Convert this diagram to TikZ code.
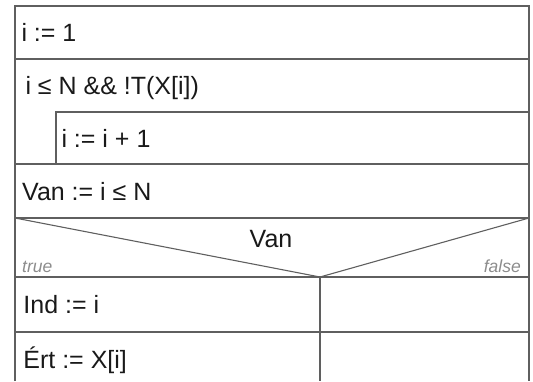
\documentclass[tikz,border=0pt]{standalone}
\usepackage{fontspec}
\setmainfont{Liberation Sans}
\definecolor{linec}{RGB}{95,95,95}
\definecolor{txtc}{RGB}{25,25,25}
\definecolor{lblc}{RGB}{140,140,140}
\begin{document}
\begin{tikzpicture}[x=1pt,y=-1pt,
  rule/.style={draw=linec, line width=1.1pt},
  txt/.style={anchor=base west, inner sep=0pt, text=txtc, font=\fontsize{25}{30}\selectfont},
  lbl/.style={inner sep=0pt, text=lblc, font=\fontsize{17.5}{20}\selectfont\itshape}]
\useasboundingbox (0,0) rectangle (533,381);
% frame
\draw[rule] (15,381) -- (15,6) -- (529,6) -- (529,381);
\draw[rule] (15,59) -- (529,59);
\draw[rule] (56,164) -- (56,112) -- (529,112);
\draw[rule] (15,164) -- (529,164);
\draw[rule] (15,218) -- (529,218);
\coordinate (tl) at (15,218);
\coordinate (tr) at (529,218);
\coordinate (v) at (320,277);
\coordinate (vb) at (320,381);
\draw[rule] (tl) -- (v) -- (tr);
\draw[rule] (15,277) -- (529,277);
\draw[rule] (v) -- (vb);
\draw[rule] (15,332) -- (529,332);
% texts
\node[txt] (s1) at (21.3,41.5) {i := 1};
\node[txt] (w) at (25.3,94.5) {i ≤ N \&\& !T(X[i])};
\node[txt] (s2) at (61.3,147) {i := i + 1};
\node[txt] (s3) at (22,200) {Van := i ≤ N};
\node[txt, anchor=base] (c) at (271,247) {Van};
\node[lbl, anchor=base west] (t) at (22,272) {true};
\node[lbl, anchor=base east] (f) at (521,272) {false};
\node[txt] (s4) at (23.2,313) {Ind := i};
\node[txt] (s5) at (23.2,368) {Ért := X[i]};
\end{tikzpicture}
\end{document}
